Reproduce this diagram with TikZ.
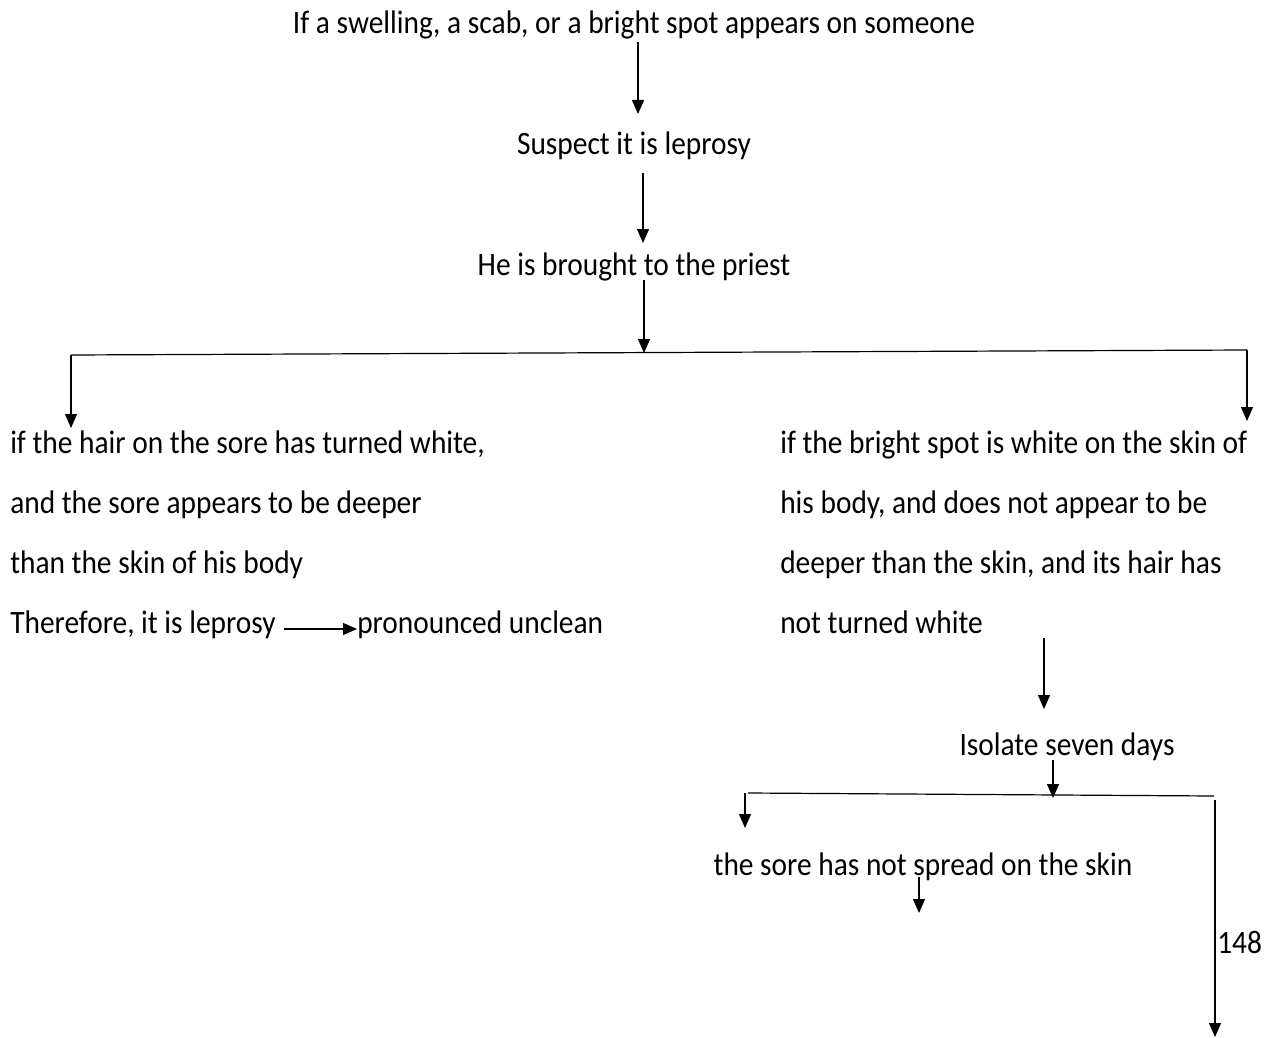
\documentclass[tikz,border=0pt]{standalone}
\usepackage{fontspec}
\setmainfont{Carlito}[FakeStretch=0.9]
\usetikzlibrary{arrows.meta}
\begin{document}
\begin{tikzpicture}[x=0.75pt,y=-0.75pt,
  txt/.style={inner sep=0pt, anchor=base, font=\fontsize{24.5}{29}\selectfont},
  lt/.style={txt, anchor=base west},
  arr/.style={-{Triangle[length=10.5pt,width=9pt]}, line width=0.9pt},
  ln/.style={line width=0.9pt}]
\useasboundingbox (0,0) rectangle (1270,1038);
% main column
\node[txt] (t1) at (634,34) {If a swelling, a scab, or a bright spot appears on someone};
\node[txt] (t2) at (634,155) {Suspect it is leprosy};
\node[txt] (t3) at (634,275) {He is brought to the priest};
% left branch
\node[lt] (l1) at (10,453) {if the hair on the sore has turned white,};
\node[lt] (l2) at (10,513) {and the sore appears to be deeper};
\node[lt] (l3) at (10,573) {than the skin of his body};
\node[lt] (l4) at (10,633) {Therefore, it is leprosy};
\node[lt] (pu) at (357,633) {pronounced unclean};
% right branch
\node[lt] (r1) at (780,453) {if the bright spot is white on the skin of};
\node[lt] (r2) at (780,513) {his body, and does not appear to be};
\node[lt] (r3) at (780,573) {deeper than the skin, and its hair has};
\node[lt] (r4) at (780,633) {not turned white};
\node[txt] (iso) at (1067,755) {Isolate seven days};
\node[txt] (sore) at (923,875) {the sore has not spread on the skin};
\node[lt] (n148) at (1217,953) {148};
% coordinates
\coordinate (a1s) at (638,42);  \coordinate (a1e) at (638,114);
\coordinate (a2s) at (643,173); \coordinate (a2e) at (643,243);
\coordinate (a3s) at (644,280); \coordinate (a3e) at (644,353);
\coordinate (hL) at (71,355);   \coordinate (hR) at (1247,350);
\coordinate (bLe) at (71,428);  \coordinate (bRe) at (1247,421);
\coordinate (a4s) at (1044,638); \coordinate (a4e) at (1044,709);
\coordinate (a5s) at (1053,760); \coordinate (a5e) at (1053,798);
\coordinate (h2L) at (748,793); \coordinate (h2R) at (1214,796);
\coordinate (c1s) at (745,793); \coordinate (c1e) at (745,828);
\coordinate (c2s) at (919,877); \coordinate (c2e) at (919,913);
\coordinate (c3s) at (1215,800); \coordinate (c3e) at (1215,1037);
% connectors
\draw[arr] (a1s) -- (a1e);
\draw[arr] (a2s) -- (a2e);
\draw[arr] (a3s) -- (a3e);
\draw[ln] (hL) -- (hR);
\draw[arr] (hL) -- (bLe);
\draw[arr] (hR) -- (bRe);
\draw[arr] ([xshift=6pt,yshift=3pt]l4.base east) -- ([yshift=3pt]pu.base west);
\draw[arr] (a4s) -- (a4e);
\draw[arr] (a5s) -- (a5e);
\draw[ln] (h2L) -- (h2R);
\draw[arr] (c1s) -- (c1e);
\draw[arr] (c2s) -- (c2e);
\draw[arr] (c3s) -- (c3e);
\end{tikzpicture}
\end{document}
